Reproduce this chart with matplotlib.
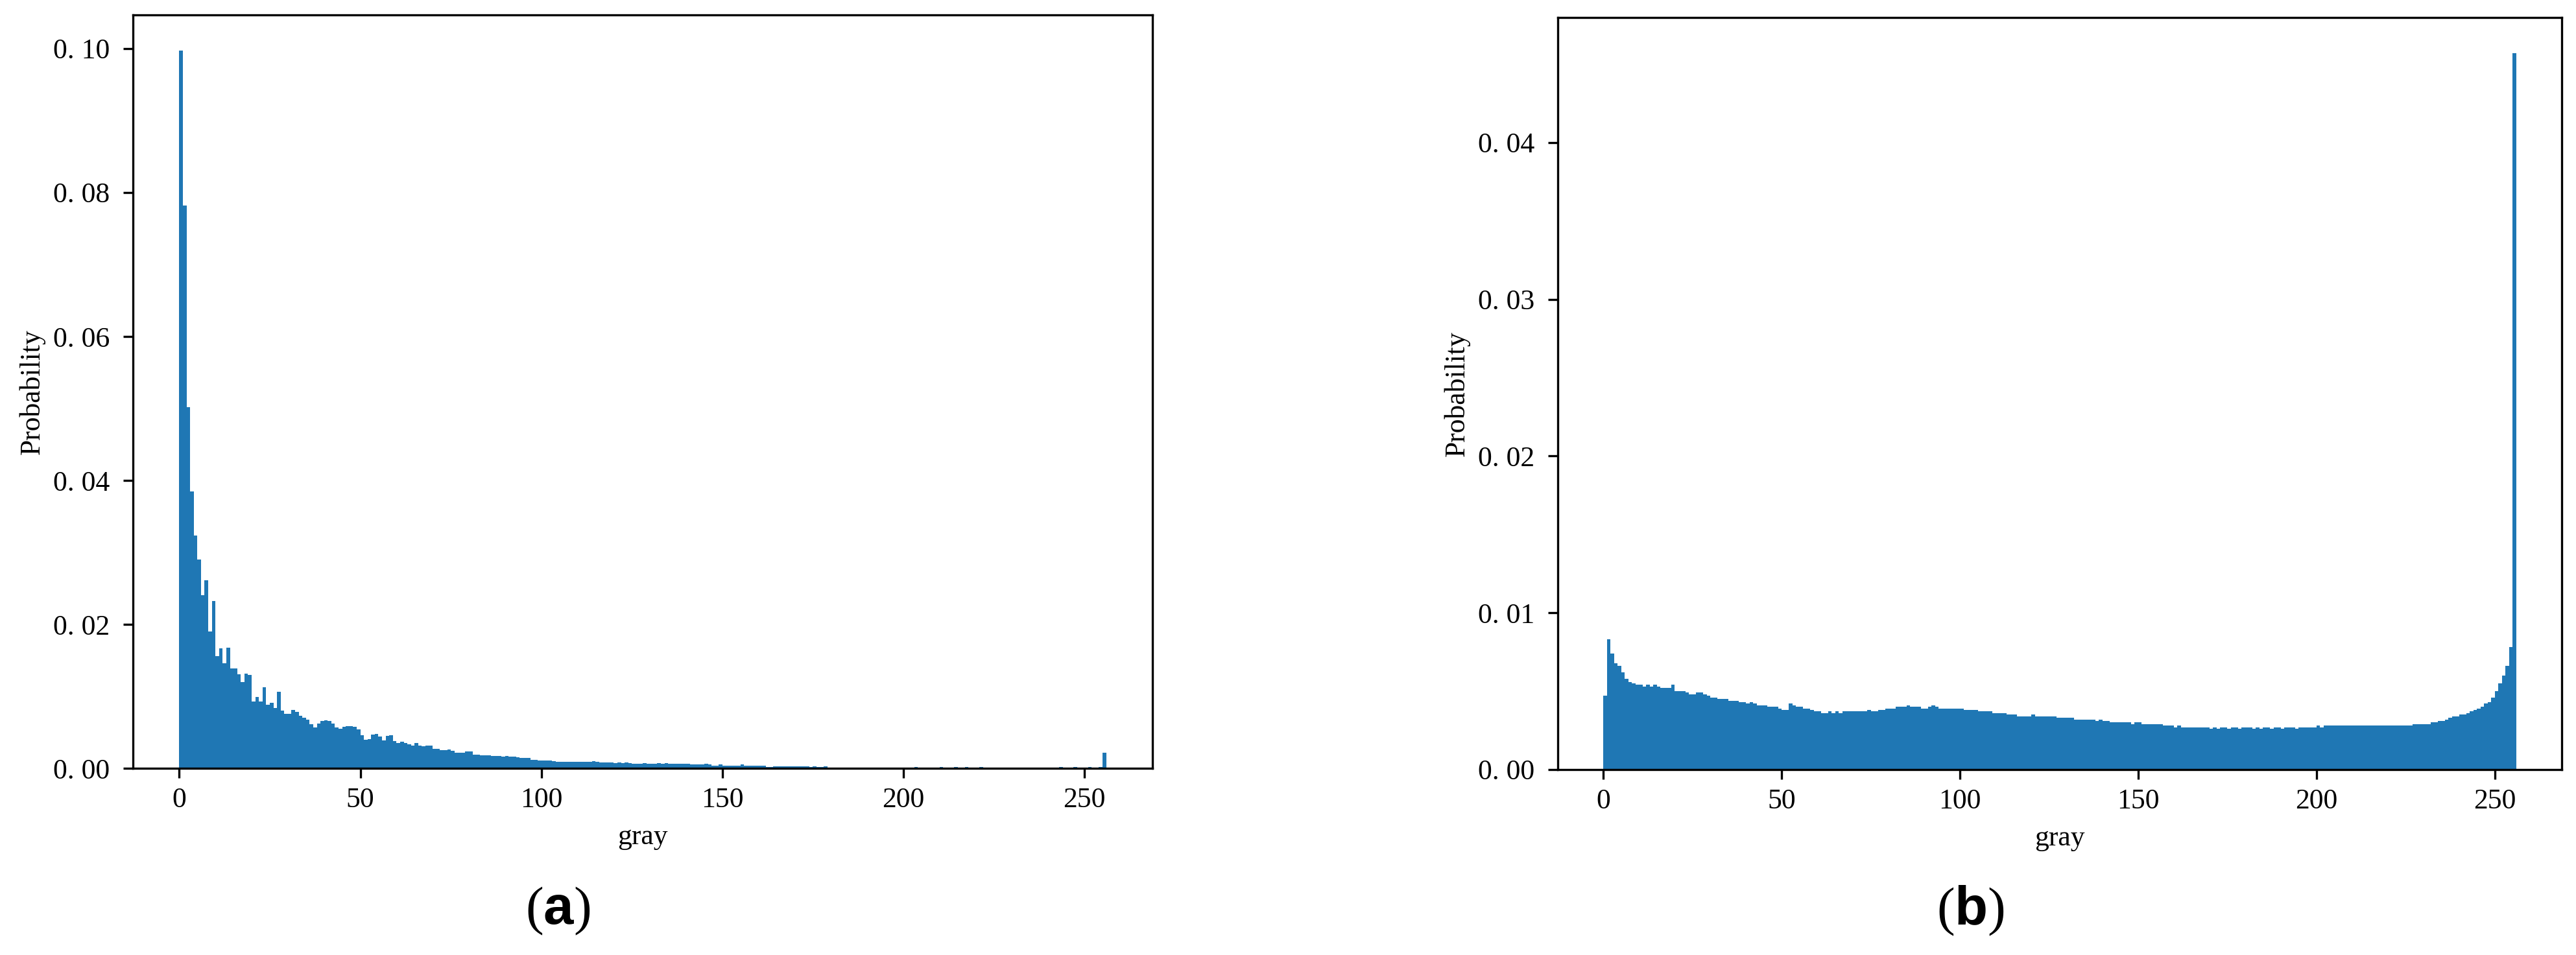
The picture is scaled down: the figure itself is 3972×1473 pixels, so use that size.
import numpy as np
import matplotlib
matplotlib.use("Agg")
import matplotlib.pyplot as plt
from matplotlib.ticker import FuncFormatter

# gray-level histograms, one probability per gray level (bins of width 1)
gray_edges = np.arange(257)

prob_a = [
    0.0997, 0.0782, 0.0502, 0.0385, 0.0323, 0.0290, 0.0241, 0.0261, 0.0190, 0.0232, 0.0156, 0.0167, 0.0146, 0.0168, 0.0139, 0.0139,
    0.0131, 0.0120, 0.0132, 0.0130, 0.0093, 0.0099, 0.0093, 0.0113, 0.0088, 0.0091, 0.0084, 0.0106, 0.0080, 0.0076, 0.0076, 0.0081,
    0.0078, 0.0073, 0.0070, 0.0068, 0.0061, 0.0057, 0.0062, 0.0066, 0.0067, 0.0066, 0.0062, 0.0057, 0.0055, 0.0058, 0.0059, 0.0059,
    0.0058, 0.0054, 0.0046, 0.0040, 0.0041, 0.0047, 0.0048, 0.0044, 0.0039, 0.0045, 0.0046, 0.0038, 0.0035, 0.0037, 0.0035, 0.0033,
    0.0032, 0.0035, 0.0032, 0.0031, 0.0032, 0.0032, 0.0027, 0.0027, 0.0025, 0.0025, 0.0026, 0.0024, 0.0022, 0.0022, 0.0022, 0.0023,
    0.0023, 0.0019, 0.0019, 0.0018, 0.0018, 0.0018, 0.0017, 0.0017, 0.0017, 0.0016, 0.0017, 0.0016, 0.0016, 0.0015, 0.0014, 0.0014,
    0.0014, 0.0012, 0.0012, 0.0011, 0.0011, 0.0011, 0.0011, 0.0010, 0.0009, 0.0009, 0.0009, 0.0009, 0.0009, 0.0009, 0.0009, 0.0009,
    0.0009, 0.0009, 0.0010, 0.0009, 0.0008, 0.0008, 0.0008, 0.0008, 0.0007, 0.0008, 0.0007, 0.0008, 0.0007, 0.0006, 0.0006, 0.0006,
    0.0007, 0.0006, 0.0006, 0.0006, 0.0007, 0.0006, 0.0007, 0.0006, 0.0006, 0.0006, 0.0006, 0.0006, 0.0006, 0.0005, 0.0005, 0.0005,
    0.0005, 0.0006, 0.0005, 0.0004, 0.0004, 0.0005, 0.0004, 0.0004, 0.0004, 0.0004, 0.0004, 0.0005, 0.0004, 0.0004, 0.0004, 0.0004,
    0.0004, 0.0004, 0.0002, 0.0002, 0.0003, 0.0003, 0.0003, 0.0003, 0.0003, 0.0003, 0.0003, 0.0003, 0.0003, 0.0003, 0.0002, 0.0003,
    0.0002, 0.0002, 0.0003, 0.0001, 0.0001, 0.0001, 0.0001, 0.0001, 0.0001, 0.0001, 0.0001, 0.0001, 0.0001, 0.0001, 0.0001, 0.0001,
    0.0001, 0.0001, 0.0001, 0.0001, 0.0001, 0.0001, 0.0001, 0.0001, 0.0001, 0.0001, 0.0000, 0.00015, 0.0000, 0.0000, 0.0000, 0.0000,
    0.0000, 0.0000, 0.00015, 0.0000, 0.0000, 0.0000, 0.00015, 0.0000, 0.0000, 0.00015, 0.0000, 0.0000, 0.0000, 0.00015, 0.0000, 0.0000,
    0.0000, 0.0000, 0.0000, 0.0000, 0.0000, 0.0000, 0.0000, 0.0000, 0.0000, 0.0000, 0.0000, 0.0000, 0.0000, 0.0000, 0.0000, 0.0000,
    0.0000, 0.0000, 0.0000, 0.00015, 0.0000, 0.0000, 0.0000, 0.00015, 0.0000, 0.0000, 0.0000, 0.00015, 0.0000, 0.0000, 0.00015, 0.0022,
]

prob_b = [
    0.0047, 0.0083, 0.0074, 0.0068, 0.0066, 0.0062, 0.0058, 0.0056, 0.0055, 0.0054, 0.0054, 0.0053, 0.0054, 0.0053, 0.0054, 0.0053,
    0.0052, 0.0052, 0.0052, 0.0054, 0.0050, 0.0050, 0.0050, 0.0049, 0.0048, 0.0048, 0.0049, 0.0049, 0.0048, 0.0047, 0.0046, 0.0046,
    0.0045, 0.0045, 0.0045, 0.0044, 0.0044, 0.0044, 0.0043, 0.0043, 0.0042, 0.0043, 0.0042, 0.0041, 0.0041, 0.0041, 0.0040, 0.0040,
    0.0040, 0.0039, 0.0038, 0.0038, 0.0042, 0.0041, 0.0040, 0.0040, 0.0039, 0.0039, 0.0038, 0.0037, 0.0037, 0.0036, 0.0036, 0.0037,
    0.0036, 0.0037, 0.0036, 0.0037, 0.0037, 0.0037, 0.0037, 0.0037, 0.0037, 0.0037, 0.0038, 0.0037, 0.0037, 0.0038, 0.0038, 0.0039,
    0.0039, 0.0039, 0.0040, 0.0040, 0.0040, 0.0041, 0.0040, 0.0040, 0.0040, 0.0039, 0.0039, 0.0040, 0.0041, 0.0040, 0.0039, 0.0039,
    0.0039, 0.0039, 0.0039, 0.0039, 0.0039, 0.0038, 0.0038, 0.0038, 0.0038, 0.0037, 0.0037, 0.0037, 0.0037, 0.0036, 0.0036, 0.0036,
    0.0036, 0.0035, 0.0035, 0.0035, 0.0034, 0.0034, 0.0034, 0.0034, 0.0035, 0.0034, 0.0034, 0.0034, 0.0034, 0.0034, 0.0034, 0.0033,
    0.0033, 0.0033, 0.0033, 0.0033, 0.0032, 0.0032, 0.0032, 0.0032, 0.0032, 0.0032, 0.0031, 0.0032, 0.0031, 0.0031, 0.0030, 0.0030,
    0.0030, 0.0030, 0.0030, 0.0030, 0.0029, 0.0030, 0.0030, 0.0029, 0.0029, 0.0029, 0.0029, 0.0029, 0.0029, 0.0028, 0.0028, 0.0028,
    0.0027, 0.0028, 0.0027, 0.0027, 0.0027, 0.0027, 0.0027, 0.0027, 0.0027, 0.0027, 0.0026, 0.0027, 0.0026, 0.0027, 0.0027, 0.0026,
    0.0027, 0.0027, 0.0026, 0.0027, 0.0027, 0.0027, 0.0026, 0.0027, 0.0026, 0.0027, 0.0027, 0.0026, 0.0027, 0.0027, 0.0026, 0.0027,
    0.0027, 0.0027, 0.0026, 0.0027, 0.0027, 0.0027, 0.0027, 0.0027, 0.0028, 0.0027, 0.0028, 0.0028, 0.0028, 0.0028, 0.0028, 0.0028,
    0.0028, 0.0028, 0.0028, 0.0028, 0.0028, 0.0028, 0.0028, 0.0028, 0.0028, 0.0028, 0.0028, 0.0028, 0.0028, 0.0028, 0.0028, 0.0028,
    0.0028, 0.0028, 0.0028, 0.0029, 0.0029, 0.0029, 0.0029, 0.0029, 0.0030, 0.0030, 0.0031, 0.0031, 0.0032, 0.0033, 0.0034, 0.0034,
    0.0035, 0.0035, 0.0036, 0.0037, 0.0038, 0.0039, 0.0040, 0.0042, 0.0043, 0.0046, 0.0050, 0.0055, 0.0060, 0.0066, 0.0078, 0.0457,
]

plt.rcParams["font.family"] = ["Liberation Serif", "DejaVu Serif"]
plt.rcParams["font.size"] = 10.5
plt.rcParams["mathtext.fontset"] = "custom"
plt.rcParams["mathtext.rm"] = "Liberation Serif"
plt.rcParams["mathtext.bf"] = "Liberation Sans:bold"

fig = plt.figure(figsize=(3972 / 300, 1473 / 300), dpi=300)

ax_a = fig.add_axes([0.0516, 0.1955, 0.3958, 0.7889])
ax_b = fig.add_axes([0.6047, 0.1942, 0.3898, 0.7875])

tick_fmt = FuncFormatter(lambda v, pos: f"{v:.2f}".replace(".", ". "))

for ax, probs in ((ax_a, prob_a), (ax_b, prob_b)):
    ax.hist(gray_edges[:-1], bins=gray_edges, weights=probs, color="#1f77b4")
    ax.set_xlabel("gray")
    ax.set_ylabel("Probability", labelpad=3)
    ax.set_xticks([0, 50, 100, 150, 200, 250])
    ax.yaxis.set_major_formatter(tick_fmt)
    ax.tick_params(axis="y", pad=5)

ax_a.set_yticks([0.0, 0.02, 0.04, 0.06, 0.08, 0.10])
ax_b.set_yticks([0.0, 0.01, 0.02, 0.03, 0.04])

fig.text(860 / 3972, 1 - 1405 / 1473, r"($\mathbf{a}$)", fontsize=20, ha="center", va="center")
fig.text(3038 / 3972, 1 - 1405 / 1473, r"($\mathbf{b}$)", fontsize=20, ha="center", va="center")

fig.savefig("out.png", dpi=300)
